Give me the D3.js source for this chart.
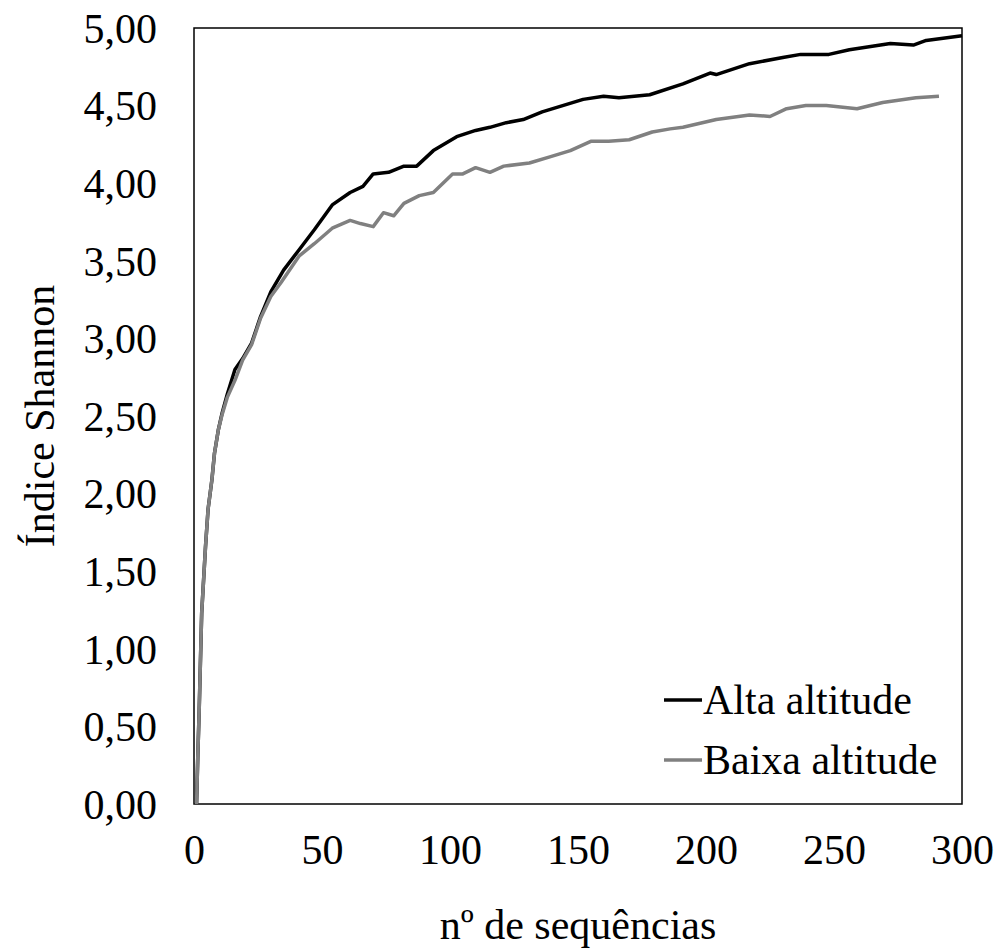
<!DOCTYPE html>
<html>
<head>
<meta charset="utf-8">
<script src="https://cdn.jsdelivr.net/npm/d3@7"></script>
<style>
  html, body { margin: 0; padding: 0; background: #fff; }
  svg text { font-family: "Liberation Serif", "Times New Roman", serif; fill: #000; }
</style>
</head>
<body>
<svg id="chart" width="1000" height="952"></svg>
<script>
// ── Dados ────────────────────────────────────────────────────────────
const X_TICKS = [0, 50, 100, 150, 200, 250, 300];
const Y_TICKS = [0, 0.5, 1, 1.5, 2, 2.5, 3, 3.5, 4, 4.5, 5];

const ALTA_N = [1, 1.5, 2, 3, 4.5, 5.5, 7, 8, 9.5, 11, 13, 16, 19, 22.5, 26, 30, 35, 41, 47, 54, 61, 66, 70, 76, 82, 87, 93.5, 102.6, 110, 115.6, 122, 128.6, 136, 144, 152, 160, 166, 178, 191, 201.6, 204, 217, 230, 237, 248, 256, 272, 281, 286, 300];
const ALTA_V = [0, 0.32, 0.59, 1.23, 1.66, 1.90, 2.09, 2.26, 2.41, 2.52, 2.64, 2.80, 2.87, 2.97, 3.14, 3.30, 3.44, 3.57, 3.70, 3.86, 3.94, 3.98, 4.06, 4.07, 4.11, 4.11, 4.21, 4.30, 4.34, 4.36, 4.39, 4.41, 4.46, 4.50, 4.54, 4.56, 4.55, 4.57, 4.64, 4.71, 4.70, 4.77, 4.81, 4.83, 4.83, 4.86, 4.90, 4.89, 4.92, 4.95];

const BAIXA_N = [1, 1.5, 2, 3, 4.5, 5.5, 7, 8, 9.5, 11, 13, 16, 19, 22.5, 26, 30, 34, 41, 47, 54, 61, 65, 70, 74, 78, 82, 88, 93.5, 101, 105, 110, 115.6, 121, 131, 139, 147, 155, 162, 170, 179, 186, 191, 204, 217, 225, 231.5, 239, 247, 259, 269, 282, 291];
const BAIXA_V = [0, 0.32, 0.59, 1.23, 1.66, 1.90, 2.09, 2.26, 2.41, 2.51, 2.62, 2.73, 2.86, 2.96, 3.13, 3.27, 3.36, 3.53, 3.61, 3.71, 3.76, 3.74, 3.72, 3.81, 3.79, 3.87, 3.92, 3.94, 4.06, 4.06, 4.10, 4.07, 4.11, 4.13, 4.17, 4.21, 4.27, 4.27, 4.28, 4.33, 4.35, 4.36, 4.41, 4.44, 4.43, 4.48, 4.50, 4.50, 4.48, 4.52, 4.55, 4.56];

const SERIES = [
  { name: "Alta altitude",  color: "#000000", n: ALTA_N,  v: ALTA_V },
  { name: "Baixa altitude", color: "#808080", n: BAIXA_N, v: BAIXA_V }
];

// ── Layout ───────────────────────────────────────────────────────────
const margin = { left: 194, right: 38, top: 28, bottom: 148 };
const W = 1000, H = 952;

const svg = d3.select("#chart");

const x = d3.scaleLinear().domain([0, 300]).range([margin.left, W - margin.right]);
const y = d3.scaleLinear().domain([0, 5]).range([H - margin.bottom, margin.top]);

// Caixa da área de plotagem
svg.append("rect")
  .attr("x", x(0)).attr("y", y(5))
  .attr("width", x(300) - x(0)).attr("height", y(0) - y(5))
  .attr("fill", "none").attr("stroke", "#000").attr("stroke-width", 1.5);

// Eixos (sem marcas de escala)
const fmt = d => d3.format(".2f")(d).replace(".", ",");

svg.append("g")
  .attr("transform", `translate(${x(0) - 37},0)`)
  .call(d3.axisLeft(y).tickValues(Y_TICKS).tickFormat(fmt).tickSize(0).tickPadding(0))
  .call(g => g.select(".domain").remove())
  .selectAll("text")
  .attr("font-size", 42).attr("font-family", "Liberation Serif").attr("dy", "0.34em");

svg.append("g")
  .attr("transform", `translate(0,${y(0) + 30})`)
  .call(d3.axisBottom(x).tickValues(X_TICKS).tickFormat(d3.format("d")).tickSize(0).tickPadding(0))
  .call(g => g.select(".domain").remove())
  .selectAll("text")
  .attr("font-size", 42).attr("font-family", "Liberation Serif").attr("dy", "0.71em");

// Títulos dos eixos
svg.append("text")
  .attr("x", (x(0) + x(300)) / 2).attr("y", 939)
  .attr("text-anchor", "middle").attr("font-size", 42)
  .text("nº de sequências");

svg.append("text")
  .attr("transform", `translate(54,${(y(0) + y(5)) / 2}) rotate(-90)`)
  .attr("text-anchor", "middle").attr("font-size", 42)
  .text("Índice Shannon");

// ── Linhas ───────────────────────────────────────────────────────────
const line = d3.line().x(d => x(d[0])).y(d => y(d[1]));

SERIES.forEach(s => {
  svg.append("path")
    .datum(d3.zip(s.n, s.v))
    .attr("fill", "none")
    .attr("stroke", s.color)
    .attr("stroke-width", 3.5)
    .attr("stroke-linejoin", "round")
    .attr("d", line);
});

// ── Legenda ──────────────────────────────────────────────────────────
const leg = svg.append("g").attr("transform", "translate(664,700)");
SERIES.forEach((s, i) => {
  const g = leg.append("g").attr("transform", `translate(0,${i * 60})`);
  g.append("line")
    .attr("x1", 0).attr("x2", 38).attr("y1", 0).attr("y2", 0)
    .attr("stroke", s.color).attr("stroke-width", 3.5);
  g.append("text")
    .attr("x", 39).attr("y", 0).attr("dy", "0.34em")
    .attr("font-size", 42)
    .text(s.name);
});
</script>
</body>
</html>
